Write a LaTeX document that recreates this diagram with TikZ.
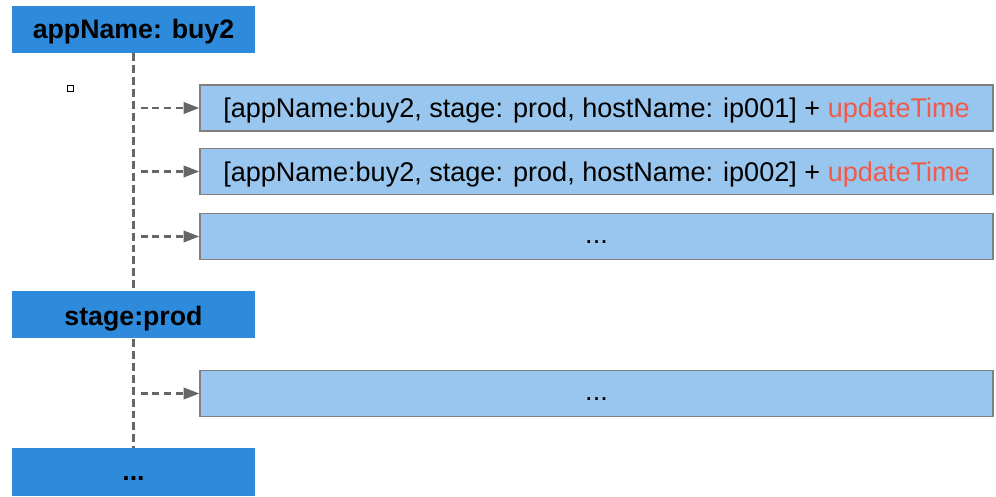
\documentclass[tikz,border=0pt]{standalone}
\usepackage{fontspec}
\setmainfont{Liberation Sans}
\usetikzlibrary{arrows.meta}

\definecolor{keyblue}{HTML}{2E8BDC}
\definecolor{rowblue}{HTML}{99C6EE}
\definecolor{rowedge}{HTML}{808080}
\definecolor{linegray}{HTML}{666666}
\definecolor{timered}{HTML}{F05A4A}

\tikzstyle{keybox} = [
    rectangle,
    fill=keyblue,
    minimum width=4.86cm,
    minimum height=0.94cm,
    inner sep=0pt,
    text height=1.39em,
    text depth=0.21em,
    font=\bfseries\fontsize{15.2}{17}\selectfont
]
\tikzstyle{rowbox} = [
    rectangle,
    fill=rowblue,
    draw=rowedge,
    line width=0.7pt,
    minimum width=15.86cm,
    minimum height=0.92cm,
    inner sep=0pt,
    text height=1.33em,
    text depth=0.21em,
    font=\fontsize{15.4}{17}\selectfont
]
\tikzstyle{dots} = [text height=1.0em, text depth=0.18em]
\tikzstyle{trunk} = [linegray, line width=1.6pt, dash pattern=on 4.5pt off 2.3pt]
\tikzstyle{arrow} = [linegray, line width=1.4pt, dash pattern=on 4pt off 2.8pt,
    -{Triangle[length=9pt,width=6.5pt]}]

\begin{document}
\begin{tikzpicture}

\useasboundingbox (0,0) rectangle (19.92,-9.94);

\node (app) [keybox, text height=1.2em] at (2.67,-0.59) {appName: buy2};
\node (stage) [keybox] at (2.67,-6.30) {stage:prod};
\node (more) [keybox, dots, text height=1.16em, minimum height=0.96cm] at (2.67,-9.44) {...};

\node (row1) [rowbox] at (11.93,-2.16)
{[appName:buy2, stage: prod, hostName: ip001] + \textcolor{timered}{updateTime}};
\node (row2) [rowbox] at (11.93,-3.43)
{[appName:buy2, stage: prod, hostName: ip002] + \textcolor{timered}{updateTime}};
\node (row3) [rowbox, dots] at (11.93,-4.73) {...};
\node (row4) [rowbox, dots] at (11.93,-7.87) {...};

\node (dot) [draw, line width=0.5pt, minimum size=0.12cm, inner sep=0pt] at (1.40,-1.76) {};

\draw [trunk] (app.south) -- (stage.north);
\draw [trunk] (stage.south) -- (more.north);

\coordinate (tap1) at ([xshift=0.14cm]row1.west -| app.south);
\coordinate (tap2) at ([xshift=0.14cm]row2.west -| app.south);
\coordinate (tap3) at ([xshift=0.14cm]row3.west -| app.south);
\coordinate (tap4) at ([xshift=0.14cm]row4.west -| app.south);

\draw [arrow] (tap1) -- (row1.west);
\draw [arrow] (tap2) -- (row2.west);
\draw [arrow] (tap3) -- (row3.west);
\draw [arrow] (tap4) -- (row4.west);

\end{tikzpicture}
\end{document}
